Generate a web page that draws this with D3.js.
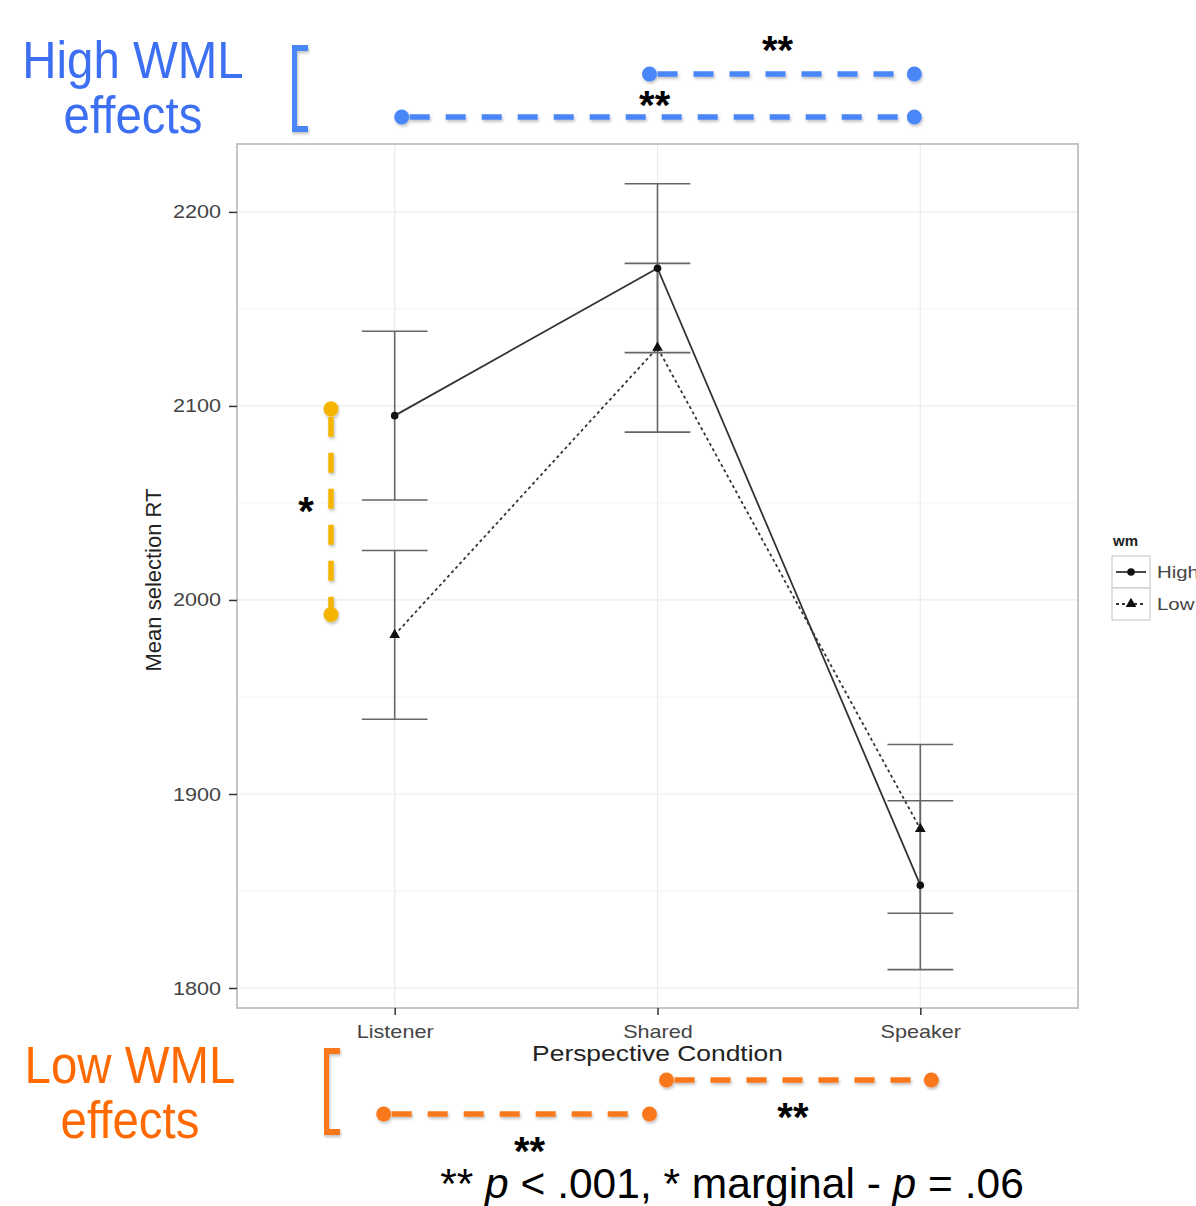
<!DOCTYPE html>
<html>
<head>
<meta charset="utf-8">
<script src="https://cdn.jsdelivr.net/npm/d3@7"></script>
<style>
  body { margin: 0; background: #fff; }
  svg { display: block; font-family: "Liberation Sans", Arial, sans-serif; }
</style>
</head>
<body>
<div id="chart"></div>
<script>
// data
var categories = ["Listener", "Shared", "Speaker"];
var highMean = [2095, 2171, 1853];
var highErr = [43.5, 43.5, 43.5];
var lowMean = [1982, 2130, 1882];
var lowErr = [43.5, 43.5, 43.5];
var yTicks = [1800, 1900, 2000, 2100, 2200];
var yMinor = [1850, 1950, 2050, 2150];
var legendLabels = ["High", "Low"];

// significance comparisons drawn over the figure
var highComparisons = [["Shared", "Speaker", "**"], ["Listener", "Speaker", "**"]];
var lowComparisons = [["Shared", "Speaker", "**"], ["Listener", "Shared", "**"]];

var width = 1196, height = 1206;

var svg = d3.select("#chart")
    .append("svg")
    .attr("width", width)
    .attr("height", height)

var defs = svg.append("defs")
var shadow = defs.append("filter").attr("id", "shadow")
    .attr("x", "-10%").attr("y", "-50%").attr("width", "120%").attr("height", "200%")
shadow.append("feDropShadow")
    .attr("dx", 1).attr("dy", 2).attr("stdDeviation", 1.5)
    .attr("flood-color", "#000").attr("flood-opacity", 0.25)

var panel = { left: 237, right: 1078, top: 144, bottom: 1008 };

var x = d3.scalePoint()
    .domain(categories)
    .range([panel.left, panel.right])
    .padding(0.6)

var y = d3.scaleLinear()
    .domain([1789.7, 2235])
    .range([panel.bottom, panel.top])

// gridlines (theme_bw look)
var grid = svg.append("g")
grid.selectAll(".minor").data(yMinor).enter().append("line")
    .attr("x1", panel.left).attr("x2", panel.right)
    .attr("y1", function(d) { return y(d) }).attr("y2", function(d) { return y(d) })
    .attr("stroke", "#f3f3f3").attr("stroke-width", 1)
grid.selectAll(".major").data(yTicks).enter().append("line")
    .attr("x1", panel.left).attr("x2", panel.right)
    .attr("y1", function(d) { return y(d) }).attr("y2", function(d) { return y(d) })
    .attr("stroke", "#ebebeb").attr("stroke-width", 1.2)
grid.selectAll(".vmajor").data(categories).enter().append("line")
    .attr("y1", panel.top).attr("y2", panel.bottom)
    .attr("x1", function(d) { return x(d) }).attr("x2", function(d) { return x(d) })
    .attr("stroke", "#ebebeb").attr("stroke-width", 1.2)

svg.append("rect")
    .attr("x", panel.left).attr("y", panel.top)
    .attr("width", panel.right - panel.left).attr("height", panel.bottom - panel.top)
    .attr("fill", "none").attr("stroke", "#b8b8b8").attr("stroke-width", 1.6)

// axes
var yAxis = svg.append("g")
    .attr("transform", "translate(" + panel.left + ",0)")
    .call(d3.axisLeft(y).tickValues(yTicks).tickSize(8).tickPadding(6).tickFormat(d3.format("d")))
yAxis.select(".domain").remove()
yAxis.selectAll(".tick line").attr("stroke", "#333").attr("stroke-width", 1.5)
yAxis.selectAll(".tick text")
    .attr("fill", "#444").style("font-size", "18px")
    .attr("x", 0).attr("dy", null).attr("y", 6)
    .attr("transform", "translate(-16,0) scale(1.2,1)")

var xAxis = svg.append("g")
    .attr("transform", "translate(0," + panel.bottom + ")")
    .call(d3.axisBottom(x).tickSize(7).tickPadding(4))
xAxis.select(".domain").remove()
xAxis.selectAll(".tick line").attr("stroke", "#333").attr("stroke-width", 1.5)
xAxis.selectAll(".tick text")
    .attr("fill", "#444").style("font-size", "18px")
    .attr("y", 0).attr("dy", null)
    .attr("transform", "translate(0,30) scale(1.2,1)")

svg.append("text")
    .attr("transform", "translate(" + x("Shared") + ",1061) scale(1.2,1)")
    .attr("text-anchor", "middle")
    .style("font-size", "22px").attr("fill", "#222")
    .text("Perspective Condtion")

svg.append("text")
    .attr("transform", "translate(161,580) rotate(-90)")
    .attr("text-anchor", "middle")
    .style("font-size", "22px").attr("fill", "#222")
    .text("Mean selection RT")

// series
var series = [
    { name: "High", mean: highMean, err: highErr, dash: null },
    { name: "Low", mean: lowMean, err: lowErr, dash: "3,3" }
]

var capHalf = (x.step() * 0.25) / 2;

series.forEach(function(s) {
    var pts = categories.map(function(c, i) { return { c: c, m: s.mean[i], e: s.err[i] } })
    var g = svg.append("g")
    g.selectAll(".ev").data(pts).enter().append("line")
        .attr("x1", function(d) { return x(d.c) }).attr("x2", function(d) { return x(d.c) })
        .attr("y1", function(d) { return y(d.m + d.e) }).attr("y2", function(d) { return y(d.m - d.e) })
        .attr("stroke", "#666").attr("stroke-width", 1.6)
    g.selectAll(".et").data(pts).enter().append("line")
        .attr("x1", function(d) { return x(d.c) - capHalf }).attr("x2", function(d) { return x(d.c) + capHalf })
        .attr("y1", function(d) { return y(d.m + d.e) }).attr("y2", function(d) { return y(d.m + d.e) })
        .attr("stroke", "#666").attr("stroke-width", 1.6)
    g.selectAll(".eb").data(pts).enter().append("line")
        .attr("x1", function(d) { return x(d.c) - capHalf }).attr("x2", function(d) { return x(d.c) + capHalf })
        .attr("y1", function(d) { return y(d.m - d.e) }).attr("y2", function(d) { return y(d.m - d.e) })
        .attr("stroke", "#666").attr("stroke-width", 1.6)
    s.pts = pts
})

series.forEach(function(s) {
    var line = d3.line().x(function(d) { return x(d.c) }).y(function(d) { return y(d.m) })
    svg.append("path")
        .datum(s.pts)
        .attr("d", line)
        .attr("fill", "none")
        .attr("stroke", "#333")
        .attr("stroke-width", 1.8)
        .attr("stroke-dasharray", s.dash)
    var sym = s.name == "High" ? d3.symbolCircle : d3.symbolTriangle
    svg.selectAll(".pt" + s.name).data(s.pts).enter().append("path")
        .attr("d", d3.symbol().type(sym).size(s.name == "High" ? 45 : 50))
        .attr("transform", function(d) { return "translate(" + x(d.c) + "," + y(d.m) + ")" })
        .attr("fill", "#111")
})

// legend
var legend = svg.append("g").attr("transform", "translate(1112,0)")
legend.append("text").attr("x", 1).attr("y", 546)
    .style("font-size", "15px").style("font-weight", "bold").attr("fill", "#222").text("wm")
legendLabels.forEach(function(lab, i) {
    var top = 556 + i * 32
    legend.append("rect").attr("x", 0).attr("y", top).attr("width", 38).attr("height", 32)
        .attr("fill", "#fff").attr("stroke", "#cccccc").attr("stroke-width", 1.2)
    legend.append("line").attr("x1", 4).attr("x2", 34).attr("y1", top + 16).attr("y2", top + 16)
        .attr("stroke", "#333").attr("stroke-width", 1.8)
        .attr("stroke-dasharray", series[i].dash)
    legend.append("path")
        .attr("d", d3.symbol().type(i == 0 ? d3.symbolCircle : d3.symbolTriangle).size(i == 0 ? 45 : 50))
        .attr("transform", "translate(19," + (top + 16) + ")").attr("fill", "#111")
    legend.append("text")
        .attr("transform", "translate(45," + (top + 22) + ") scale(1.2,1)")
        .style("font-size", "17px").attr("fill", "#444").text(lab)
})

// ---- annotation overlay ----
var blue = "#4a86f7", blueText = "#3d6ff2"
var orange = "#f9781d", orangeText = "#ff6a00"
var yellow = "#f4b400"

function bigLabel(lines, cx, y0, color) {
    lines.forEach(function(t, i) {
        svg.append("text")
            .attr("transform", "translate(" + cx + "," + (y0 + i * 55) + ") scale(0.93,1)")
            .attr("text-anchor", "middle")
            .style("font-size", "51px").attr("fill", color).text(t)
    })
}
bigLabel(["High WML", "effects"], 133, 78, blueText)
bigLabel(["Low WML", "effects"], 130, 1083, orangeText)

function bracket(x0, y0, y1, color) {
    svg.append("path")
        .attr("d", "M" + (x0 + 14) + "," + y0 + " H" + x0 + " V" + y1 + " H" + (x0 + 14))
        .attr("fill", "none").attr("stroke", color).attr("stroke-width", 6)
        .attr("filter", "url(#shadow)")
}
bracket(294, 48, 129, blue)
bracket(326, 1051, 1132, orange)

function stars(txt, cx, cy) {
    svg.append("text")
        .attr("x", cx).attr("y", cy + 19)
        .attr("text-anchor", "middle")
        .style("font-size", "40px").style("font-weight", "bold").attr("fill", "#000")
        .text(txt)
}

function dashLine(x1, y1, x2, y2, color) {
    var g = svg.append("g").attr("filter", "url(#shadow)")
    g.append("line").attr("x1", x1).attr("y1", y1).attr("x2", x2).attr("y2", y2)
        .attr("stroke", color).attr("stroke-width", 5.5)
        .attr("stroke-dasharray", "20,16").attr("stroke-dashoffset", -8)
    g.append("circle").attr("cx", x1).attr("cy", y1).attr("r", 7.5).attr("fill", color)
    g.append("circle").attr("cx", x2).attr("cy", y2).attr("r", 7.5).attr("fill", color)
}

var highRows = [74, 117], highStarY = [45, 100], highStarDx = [120, 0]
highComparisons.forEach(function(c, i) {
    var x1 = x(c[0]) + (i == 0 ? -8 : 7), x2 = x(c[1]) - 6
    dashLine(x1, highRows[i], x2, highRows[i], blue)
    stars(c[2], (i == 0 ? x(c[0]) + highStarDx[0] : x(c[0]) + 260), highStarY[i])
})

var lowRows = [1080, 1114], lowStarY = [1112, 1146]
lowComparisons.forEach(function(c, i) {
    var x1 = x(c[0]) + (i == 0 ? 9 : -11), x2 = x(c[1]) + (i == 0 ? 11 : -8)
    dashLine(x1, lowRows[i], x2, lowRows[i], orange)
    stars(c[2], (x1 + x2) / 2 + (i == 0 ? -6 : 13), lowStarY[i])
})

// marginal listener difference
dashLine(331, y(2098.5), 331, y(1992.5), yellow)
stars("*", 306, 506)

// footnote
var foot = svg.append("text")
    .attr("x", 732).attr("y", 1198)
    .attr("text-anchor", "middle")
    .style("font-size", "42.5px").attr("fill", "#000")
foot.append("tspan").text("** ")
foot.append("tspan").style("font-style", "italic").text("p")
foot.append("tspan").text(" < .001, * marginal - ")
foot.append("tspan").style("font-style", "italic").text("p")
foot.append("tspan").text(" = .06")
</script>
</body>
</html>
